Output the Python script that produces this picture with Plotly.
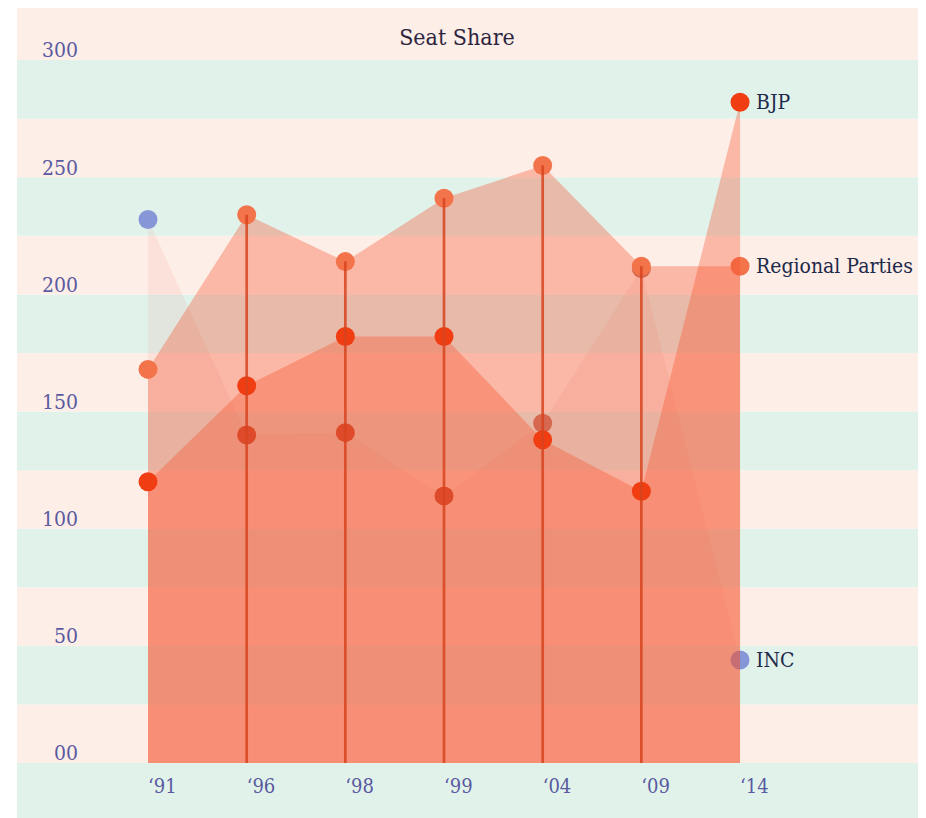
import plotly.graph_objects as go

years = ["'91", "'96", "'98", "'99", "'04", "'09", "'14"]
year_labels = ["\u201891", "\u201896", "\u201898", "\u201899", "\u201804", "\u201809", "\u201814"]
inc = [232, 140, 141, 114, 145, 211, 44]
regional = [168, 234, 214, 241, 255, 212, 212]
bjp = [120, 161, 182, 182, 138, 116, 282]
y_ticks = [0, 50, 100, 150, 200, 250, 300]
y_tick_labels = ["00", "50", "100", "150", "200", "250", "300"]
series_names = ["INC", "Regional Parties", "BJP"]

FONT = "DejaVu Serif Condensed, DejaVu Serif, serif"
W, H = 918, 810
ML, MR, MT = 72, 0, 0
zero_px = 755
MB = H - zero_px
plot_w = W - ML - MR
plot_h = H - MT - MB
px_per_unit = 2.343
y_top = plot_h / px_per_unit
step = 98.67
first_px = 140
x0 = -(first_px - ML) / step
x1 = x0 + plot_w / step
stripe_left = 9

fig = go.Figure()

# background stripes (25-seat bands)
band = 25
shapes = []
for k in range(0, 13):
    shapes.append(dict(type="rect", xref="paper", yref="y", x0=-(ML - stripe_left) / plot_w, x1=1,
                       y0=k * band, y1=(k + 1) * band, line=dict(width=0),
                       fillcolor="#fdeee7" if k % 2 == 0 else "#e1f2eb", layer="below"))
shapes.append(dict(type="rect", xref="paper", yref="paper", x0=-(ML - stripe_left) / plot_w, x1=1,
                   y0=-MB / plot_h, y1=0, line=dict(width=0), fillcolor="#e1f2eb", layer="below"))

# INC marker shade depends on how many fills cover it (edge points are half covered by the fill edge)
inc_colors = []
for i, v in enumerate(inc):
    n = sum(1 for s in (regional, bjp) if s[i] > v - 3)
    if i in (0, len(inc) - 1):
        n = 0
    inc_colors.append(["rgb(135,150,215)", "rgb(198,118,100)", "rgb(188,72,45)"][n])

fig.add_trace(go.Scatter(x=years, y=inc, mode="markers", fill="tozeroy",
                         fillcolor="rgba(235,120,110,0.10)", line=dict(width=0),
                         marker=dict(size=19, color=inc_colors), name=series_names[0]))
fig.add_trace(go.Scatter(x=years, y=regional, mode="markers", fill="tozeroy",
                         fillcolor="rgba(246,80,42,0.34)", line=dict(width=0),
                         marker=dict(size=19, color="rgb(243,115,75)"), name=series_names[1]))
fig.add_trace(go.Scatter(x=years, y=bjp, mode="markers", fill="tozeroy",
                         fillcolor="rgba(246,80,42,0.34)", line=dict(width=0),
                         marker=dict(size=19, color="rgb(240,62,18)"), name=series_names[2]))

# drop lines at interior years
lx, ly = [], []
for i in range(1, len(years) - 1):
    top = max(inc[i], regional[i], bjp[i])
    lx += [years[i], years[i], None]
    ly += [top, 0, None]
fig.add_trace(go.Scatter(x=lx, y=ly, mode="lines", line=dict(color="rgba(215,68,30,0.85)", width=2.7),
                         hoverinfo="skip", showlegend=False))

annotations = []
for name, vals in zip(series_names, [inc, regional, bjp]):
    annotations.append(dict(x=years[-1], y=vals[-1], xref="x", yref="y", text=name, showarrow=False,
                            xanchor="left", yanchor="middle", xshift=14,
                            font=dict(family=FONT, size=21, color="#1e2a4a")))

fig.update_layout(
    width=W, height=H,
    margin=dict(l=ML, r=MR, t=MT, b=MB, autoexpand=False),
    paper_bgcolor="white", plot_bgcolor="rgba(0,0,0,0)",
    showlegend=False,
    shapes=shapes,
    annotations=annotations,
    title=dict(text="Seat Share", x=449 / W, xref="container", xanchor="center",
               y=1 - 29 / H, yref="container", yanchor="middle",
               font=dict(family=FONT, size=23, color="#2e2440")),
    xaxis=dict(type="category", categoryorder="array", categoryarray=years,
               range=[x0, x1], tickvals=years, ticktext=year_labels,
               showgrid=False, zeroline=False, showline=False, ticks="",
               tickfont=dict(family=FONT, size=20, color="#5a5aa0"), automargin=False,
               ticklabelposition="outside right", ticklabelstandoff=9),
    yaxis=dict(range=[0, y_top], tickvals=y_ticks, ticktext=y_tick_labels,
               showgrid=False, zeroline=False, showline=False, ticks="",
               tickfont=dict(family=FONT, size=21, color="#5a5aa0"), automargin=False,
               ticklabelshift=-10, ticklabelstandoff=1),
)

fig.write_html("out.html")
